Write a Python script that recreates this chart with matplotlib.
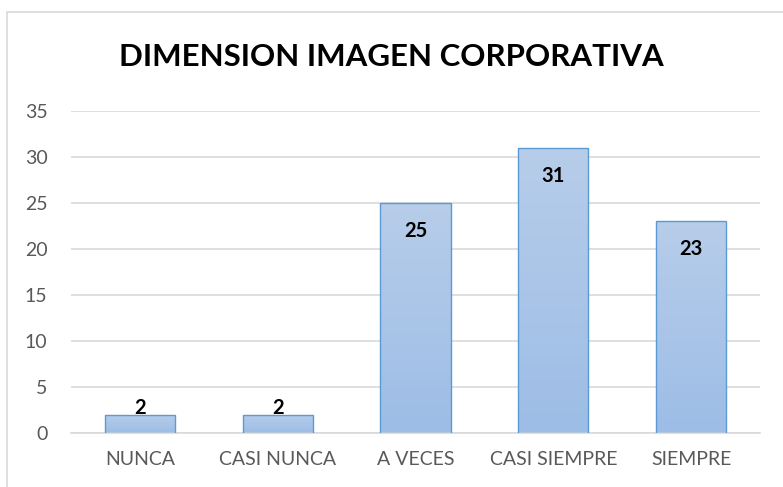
import matplotlib.pyplot as plt
import numpy as np
from matplotlib.colors import LinearSegmentedColormap
from matplotlib.patches import Rectangle

categories = ["NUNCA", "CASI NUNCA", "A VECES", "CASI SIEMPRE", "SIEMPRE"]
values = [2, 2, 25, 31, 23]
y_ticks = [0, 5, 10, 15, 20, 25, 30, 35]
title = "DIMENSION IMAGEN CORPORATIVA"

plt.rcParams["font.family"] = ["Lato", "DejaVu Sans"]

W, H = 783, 487
fig = plt.figure(figsize=(W / 100, H / 100), dpi=100)
ax = fig.add_axes([71 / W, (H - 433) / H, (760 - 71) / W, (433 - 111) / H])

# chart frame
fig.patches.append(Rectangle((7 / W, -0.01), 1.0, (H - 12) / H + 0.01,
                             transform=fig.transFigure, fill=False,
                             edgecolor="#d9d9d9", linewidth=1.2))

x = np.arange(len(categories))
bars = ax.bar(x, values, width=0.51, color="none", edgecolor="#5b9bd5",
              linewidth=1.0, zorder=3)

grad = LinearSegmentedColormap.from_list("g", ["#9dbde6", "#b7cdea"])
for b in bars:
    bx, by = b.get_x(), b.get_y()
    bw, bh = b.get_width(), b.get_height()
    im = ax.imshow(np.linspace(0, 1, 100).reshape(-1, 1), cmap=grad,
                   origin="lower", aspect="auto",
                   extent=[bx, bx + bw, by, by + bh], zorder=2)
    im.set_clip_path(b)

for xi, v in zip(x, values):
    off = -20 if v > 5 else 5
    ax.annotate(str(v), (xi, v), xytext=(0, off), textcoords="offset points",
                ha="center", va="center", fontsize=14.5, fontweight="bold",
                color="black", zorder=4)

ax.set_xlim(-0.5, len(categories) - 0.5)
ax.set_ylim(0, 35)
ax.set_yticks(y_ticks)
ax.set_xticks(x, labels=categories)
ax.tick_params(axis="both", length=0, labelsize=14, colors="#595959")
ax.tick_params(axis="x", pad=13)
ax.tick_params(axis="y", pad=17)
ax.grid(axis="y", color="#d9d9d9", linewidth=1.2, zorder=0)
ax.set_axisbelow(True)
for s in ["top", "right", "left"]:
    ax.spines[s].set_visible(False)
ax.spines["bottom"].set_color("#d9d9d9")
ax.spines["bottom"].set_linewidth(1.2)

fig.text(391 / W, 1 - 57 / H, title, ha="center", va="center",
         fontsize=22.5, fontweight="bold", color="black")

fig.savefig("out.png", dpi=100)
